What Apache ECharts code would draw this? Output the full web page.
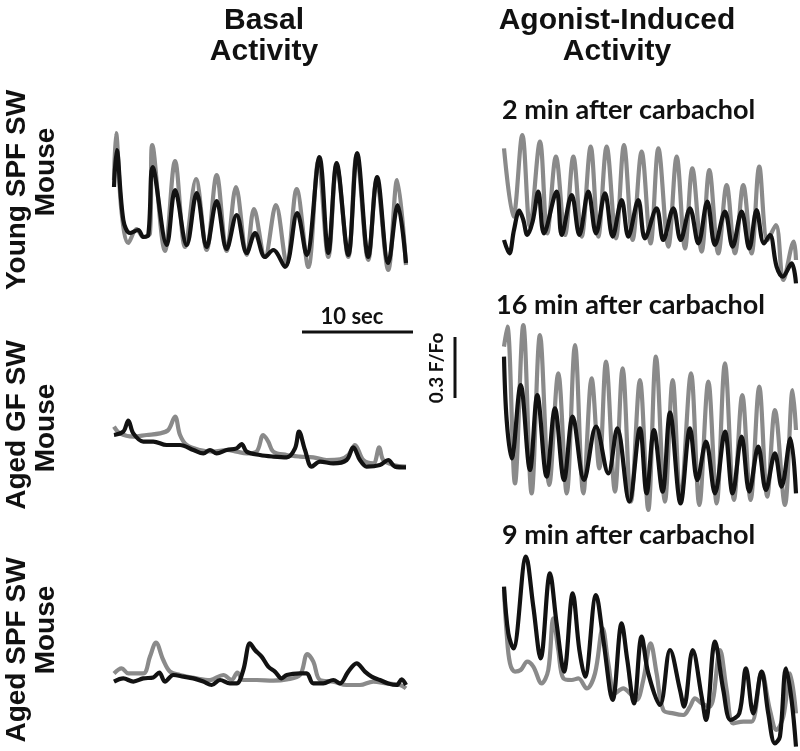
<!DOCTYPE html>
<html>
<head>
<meta charset="utf-8">
<script src="https://cdn.jsdelivr.net/npm/echarts@6/dist/echarts.min.js"></script>
<style>html,body{margin:0;padding:0;background:#fff}#chart{width:800px;height:751px}</style>
</head>
<body>
<div id="chart"></div>
<script>
// time (s), response (F/Fo above panel baseline)
const youngBasalGray = [[0.09,0.475],[0.27,0.71],[0.78,0.31],[1.38,0.16],[2.13,0.23],[2.73,0.19],[3.33,0.21],[3.54,0.65],[4.68,0.12],[5.59,0.57],[6.49,0.14],[7.48,0.48],[8.44,0.125],[9.34,0.50],[10.24,0.12],[11.08,0.44],[12.05,0.10],[12.70,0.33],[13.69,0.09],[14.68,0.35],[15.65,0.06],[16.55,0.43],[17.6,0.04],[18.5,0.57],[19.4,0.09],[20.15,0.55],[21.2,0.09],[21.95,0.60],[23.0,0.075],[23.75,0.475],[24.8,0.025],[25.6,0.475],[26.4,0.05]];
const youngBasalBlack = [[0.09,0.44],[0.33,0.625],[0.93,0.275],[1.53,0.21],[2.28,0.225],[2.73,0.19],[3.18,0.20],[3.57,0.54],[4.84,0.15],[5.59,0.425],[6.64,0.15],[7.54,0.41],[8.44,0.14],[9.34,0.37],[10.24,0.13],[11.14,0.30],[12.05,0.11],[12.8,0.21],[13.69,0.09],[14.44,0.125],[15.5,0.04],[16.6,0.31],[17.45,0.10],[18.6,0.59],[19.4,0.11],[20.15,0.56],[21.2,0.10],[22.0,0.61],[23.0,0.09],[23.8,0.49],[24.8,0.06],[25.65,0.35],[26.4,0.06]];

const youngAgonistGray = [[0.09,0.683],[0.93,0.342],[1.74,0.75],[2.43,0.292],[3.33,0.717],[3.99,0.258],[4.77,0.642],[5.59,0.25],[6.34,0.642],[7.09,0.242],[7.9,0.692],[8.59,0.242],[9.34,0.692],[10.18,0.233],[10.9,0.70],[11.68,0.225],[12.49,0.667],[13.3,0.208],[14.0,0.683],[14.9,0.192],[15.65,0.642],[16.4,0.183],[17.06,0.583],[17.9,0.167],[18.59,0.575],[19.4,0.158],[20.15,0.50],[20.9,0.158],[21.65,0.50],[22.4,0.158],[23.09,0.592],[23.84,0.225],[24.59,0.30],[25.26,0.025],[26.2,0.217],[26.4,0.125]];
const youngAgonistBlack = [[0.09,0.225],[0.57,0.158],[0.99,0.275],[1.47,0.372],[1.83,0.325],[2.19,0.25],[2.67,0.317],[3.18,0.467],[3.69,0.258],[4.83,0.467],[5.29,0.25],[6.19,0.45],[6.88,0.25],[7.69,0.467],[8.38,0.258],[9.19,0.458],[9.88,0.242],[10.69,0.425],[11.29,0.242],[12.19,0.425],[12.79,0.233],[13.84,0.383],[14.44,0.225],[15.35,0.383],[16.0,0.225],[16.85,0.383],[17.6,0.208],[18.41,0.417],[19.1,0.20],[20.0,0.367],[20.69,0.192],[21.5,0.367],[22.19,0.183],[22.85,0.375],[23.51,0.208],[24.05,0.25],[24.65,0.092],[25.2,0.042],[26.0,0.108],[26.4,0.008]];

const agedGFBasalGray = [[0.09,0.267],[0.63,0.233],[1.83,0.217],[3.03,0.225],[4.23,0.233],[4.98,0.25],[5.59,0.317],[6.04,0.225],[6.64,0.175],[7.84,0.15],[9.04,0.142],[10.24,0.15],[11.14,0.142],[12.04,0.133],[12.94,0.142],[13.54,0.225],[13.99,0.192],[14.44,0.142],[15.65,0.125],[16.85,0.117],[18.05,0.113],[19.25,0.10],[20.45,0.103],[21.2,0.125],[21.8,0.175],[22.55,0.10],[23.45,0.083],[23.99,0.163],[24.35,0.10],[25.26,0.075],[26.4,0.067]];
const agedGFBasalBlack = [[0.09,0.225],[0.93,0.242],[1.38,0.297],[1.83,0.233],[2.73,0.192],[3.63,0.192],[4.83,0.175],[6.04,0.175],[7.24,0.15],[8.14,0.133],[8.74,0.15],[9.34,0.133],[10.24,0.15],[11.14,0.158],[11.59,0.18],[12.04,0.142],[13.24,0.125],[14.44,0.117],[15.65,0.113],[16.4,0.158],[16.76,0.242],[17.3,0.15],[17.9,0.067],[18.65,0.092],[19.85,0.083],[21.05,0.10],[21.65,0.163],[22.25,0.10],[22.85,0.067],[24.05,0.075],[24.8,0.10],[25.4,0.067],[26.4,0.063]];

const agedGFAgonistGray = [[0.09,0.867],[0.39,0.967],[1.08,0.183],[1.83,0.975],[2.58,0.133],[3.33,0.925],[4.17,0.175],[4.98,0.733],[5.74,0.133],[6.49,0.875],[7.24,0.133],[7.99,0.708],[8.68,0.258],[9.28,0.792],[10.09,0.142],[10.78,0.758],[11.53,0.092],[12.34,0.70],[13.09,0.05],[13.78,0.817],[14.59,0.092],[15.29,0.70],[16.0,0.092],[16.94,0.733],[17.69,0.075],[18.5,0.692],[19.25,0.083],[20.0,0.783],[20.81,0.10],[21.56,0.625],[22.31,0.10],[23.09,0.667],[23.81,0.117],[24.5,0.55],[25.4,0.075],[26.1,0.65],[26.4,0.45]];
const agedGFAgonistBlack = [[0.09,0.817],[0.33,0.50],[0.78,0.308],[1.59,0.675],[2.43,0.25],[3.09,0.625],[3.93,0.217],[4.68,0.558],[5.5,0.20],[6.28,0.517],[7.3,0.20],[8.38,0.467],[9.49,0.233],[10.3,0.458],[11.38,0.092],[12.34,0.458],[12.94,0.133],[13.6,0.45],[14.38,0.142],[15.05,0.537],[16.0,0.083],[16.85,0.458],[17.51,0.20],[18.29,0.392],[19.1,0.133],[20.0,0.442],[20.69,0.133],[21.5,0.417],[22.19,0.142],[23.0,0.367],[23.69,0.15],[24.5,0.333],[25.1,0.167],[25.9,0.408],[26.4,0.133]];

const agedSPFBasalGray = [[0.09,0.133],[0.78,0.158],[1.38,0.133],[2.73,0.133],[3.33,0.217],[3.87,0.287],[4.53,0.20],[5.14,0.142],[6.04,0.125],[7.54,0.108],[8.74,0.10],[9.94,0.125],[10.69,0.10],[11.2,0.137],[11.74,0.10],[12.94,0.10],[14.44,0.097],[15.65,0.103],[16.85,0.125],[17.51,0.23],[18.05,0.192],[18.65,0.10],[19.85,0.092],[21.05,0.075],[22.25,0.075],[23.45,0.092],[24.65,0.083],[25.86,0.075],[26.4,0.058]];
const agedSPFBasalBlack = [[0.09,0.092],[0.93,0.108],[1.83,0.092],[2.73,0.108],[3.63,0.113],[4.17,0.137],[4.68,0.092],[5.44,0.125],[6.34,0.117],[7.24,0.108],[8.14,0.092],[8.89,0.075],[9.64,0.10],[10.54,0.083],[11.14,0.083],[11.74,0.15],[12.34,0.283],[12.79,0.25],[13.39,0.217],[13.99,0.167],[14.59,0.142],[15.2,0.108],[15.65,0.125],[16.85,0.133],[17.45,0.133],[18.05,0.083],[18.95,0.083],[19.85,0.10],[20.45,0.083],[21.2,0.142],[21.95,0.183],[22.7,0.142],[23.3,0.117],[24.05,0.10],[24.8,0.083],[25.56,0.075],[26.0,0.103],[26.4,0.075]];

const agedSPFAgonistGray = [[0.09,0.80],[0.33,0.583],[0.63,0.433],[1.08,0.392],[1.59,0.40],[2.19,0.442],[2.73,0.417],[3.48,0.333],[4.08,0.40],[4.53,0.658],[4.98,0.50],[5.44,0.358],[6.19,0.35],[6.79,0.358],[7.54,0.308],[8.29,0.383],[8.98,0.608],[9.49,0.433],[10.09,0.283],[10.84,0.308],[11.44,0.283],[12.04,0.25],[12.64,0.35],[13.3,0.533],[13.84,0.383],[14.44,0.20],[15.35,0.183],[16.25,0.175],[16.85,0.217],[17.3,0.258],[17.9,0.233],[18.65,0.217],[19.55,0.50],[20.15,0.30],[20.75,0.133],[21.65,0.142],[22.4,0.142],[23.3,0.392],[24.05,0.20],[24.65,0.10],[25.26,0.167],[25.86,0.383],[26.4,0.183]];
const agedSPFAgonistBlack = [[0.09,0.817],[0.48,0.583],[0.93,0.508],[2.07,0.967],[2.73,0.717],[3.39,0.458],[4.23,0.883],[4.83,0.633],[5.5,0.392],[6.28,0.783],[6.88,0.50],[7.39,0.367],[8.38,0.775],[9.04,0.55],[9.88,0.25],[10.69,0.633],[11.2,0.45],[11.8,0.233],[12.49,0.567],[13.09,0.383],[14.14,0.225],[15.05,0.50],[15.95,0.30],[16.31,0.217],[17.09,0.50],[17.9,0.267],[18.29,0.15],[19.1,0.542],[19.85,0.30],[20.51,0.15],[21.29,0.183],[21.89,0.408],[22.55,0.183],[23.3,0.392],[23.9,0.183],[24.5,0.033],[24.95,0.067],[25.5,0.408],[26.0,0.25],[26.4,0.017]];

const columnTitles = [["Basal", "Activity"], ["Agonist-Induced", "Activity"]];
const rowTitles = [["Young SPF SW", "Mouse"], ["Aged GF SW", "Mouse"], ["Aged SPF SW", "Mouse"]];
const panelNotes = ["2 min after carbachol", "16 min after carbachol", "9 min after carbachol"];
const timeScaleLabel = "10 sec";
const ampScaleLabel = "0.3 F/Fo";

const panels = [
  {gray: youngBasalGray, black: youngBasalBlack, grid: {left: 113, top: 125, width: 293, height: 150}, ymax: 0.75},
  {gray: youngAgonistGray, black: youngAgonistBlack, grid: {left: 503, top: 125, width: 293, height: 160}, ymax: 0.8},
  {gray: agedGFBasalGray, black: agedGFBasalBlack, grid: {left: 113, top: 400, width: 293, height: 80}, ymax: 0.4},
  {gray: agedGFAgonistGray, black: agedGFAgonistBlack, grid: {left: 503, top: 320, width: 293, height: 200}, ymax: 1.0},
  {gray: agedSPFBasalGray, black: agedSPFBasalBlack, grid: {left: 113, top: 620, width: 293, height: 80}, ymax: 0.4},
  {gray: agedSPFAgonistGray, black: agedSPFAgonistBlack, grid: {left: 503, top: 550, width: 293, height: 200}, ymax: 1.0}
];

const GRAY = '#8a8a8a', BLACK = '#121212';
const grid = [], xAxis = [], yAxis = [], series = [];
panels.forEach((p, i) => {
  grid.push(Object.assign({containLabel: false}, p.grid));
  xAxis.push({type: 'value', gridIndex: i, min: 0, max: 26.4, show: false});
  yAxis.push({type: 'value', gridIndex: i, min: 0, max: p.ymax, show: false});
  [[p.gray, GRAY], [p.black, BLACK]].forEach(([d, c]) => {
    series.push({type: 'line', xAxisIndex: i, yAxisIndex: i, data: d, showSymbol: false,
      smooth: 0.35, clip: false, lineStyle: {color: c, width: 4.2}, z: c === BLACK ? 3 : 2});
  });
});

const headFont = 'bold 30px "Liberation Sans", Arial, sans-serif';
const rowFont = 'bold 28px "Liberation Sans", Arial, sans-serif';
const noteFont = 'bold 27px Lato, "Open Sans", sans-serif';

const graphic = [];
const colX = [264, 617];
columnTitles.forEach((lines, c) => {
  lines.forEach((t, k) => graphic.push({type: 'text', x: colX[c], y: 21 + k * 31,
    style: {text: t, font: headFont, fill: '#111', textAlign: 'center', textVerticalAlign: 'middle'}}));
});
const rowCenters = [[190, 172], [425, 428], [650, 630]];
rowTitles.forEach((lines, r) => {
  lines.forEach((t, k) => graphic.push({type: 'text', x: k === 0 ? 17 : 46, y: rowCenters[r][k], rotation: Math.PI / 2,
    style: {text: t, font: rowFont, fill: '#111', textAlign: 'center', textVerticalAlign: 'middle'}}));
});
const noteXY = [[502, 110], [496, 305], [502, 535]];
panelNotes.forEach((t, i) => graphic.push({type: 'text', x: noteXY[i][0], y: noteXY[i][1],
  style: {text: t, font: noteFont, fill: '#111', textAlign: 'left', textVerticalAlign: 'middle'}}));
// scale bars
graphic.push({type: 'line', shape: {x1: 302, y1: 332, x2: 413, y2: 332}, style: {stroke: '#111', lineWidth: 3}});
graphic.push({type: 'text', x: 352, y: 317, style: {text: timeScaleLabel, font: 'bold 22px Lato, sans-serif', fill: '#111', textAlign: 'center', textVerticalAlign: 'middle'}});
graphic.push({type: 'line', shape: {x1: 455, y1: 337, x2: 455, y2: 398}, style: {stroke: '#111', lineWidth: 3}});
graphic.push({type: 'text', x: 437, y: 368, rotation: Math.PI / 2, style: {text: ampScaleLabel, font: 'bold 19px Lato, sans-serif', fill: '#111', textAlign: 'center', textVerticalAlign: 'middle'}});

const chart = echarts.init(document.getElementById('chart'), null, {renderer: 'canvas'});
chart.setOption({animation: false, backgroundColor: '#fff', grid, xAxis, yAxis, series, graphic});
</script>
</body>
</html>
